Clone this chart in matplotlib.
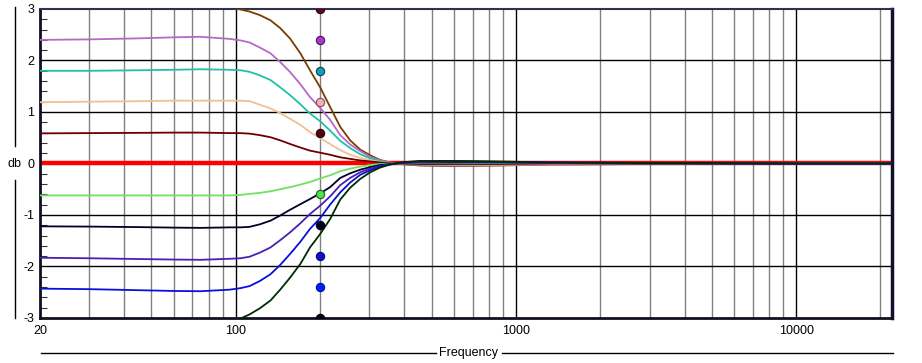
import matplotlib
matplotlib.use("Agg")
import matplotlib.pyplot as plt
from matplotlib.lines import Line2D
from matplotlib.ticker import FixedLocator, NullFormatter
import numpy as np

# frequencies (Hz) at which the curves were read
freqs = [20, 30, 45, 60, 75, 95, 104, 112, 122, 133, 144, 156, 170, 184, 200, 217, 236,
         256, 278, 302, 327, 355, 386, 454, 585, 870, 1330, 3000, 10000, 22000]

# shelf gains (db), one curve each, dots drawn at 200 Hz
gains = [3, 2.4, 1.8, 1.2, 0.6, 0, -0.6, -1.2, -1.8, -2.4, -3]

resp_p30 = [3.02, 3.03, 3.05, 3.06, 3.06, 3.03, 2.99, 2.95, 2.88, 2.78, 2.63, 2.43, 2.14, 1.81, 1.48,
            1.10, 0.71, 0.45, 0.27, 0.16, 0.07, 0.02, -0.01, -0.04, -0.05, -0.04, -0.02, -0.01, 0, 0]
resp_p24 = [2.40, 2.41, 2.43, 2.45, 2.46, 2.42, 2.39, 2.35, 2.25, 2.14, 1.97, 1.78, 1.54, 1.29, 1.08,
            0.85, 0.55, 0.37, 0.24, 0.13, 0.06, 0.02, -0.01, -0.03, -0.04, -0.03, -0.02, -0.01, 0, 0]
resp_p18 = [1.80, 1.80, 1.81, 1.82, 1.83, 1.82, 1.81, 1.78, 1.71, 1.62, 1.48, 1.33, 1.15, 0.97, 0.82,
            0.64, 0.44, 0.30, 0.18, 0.10, 0.05, 0.01, -0.01, -0.02, -0.03, -0.02, -0.01, 0, 0, 0]
resp_p12 = [1.19, 1.20, 1.21, 1.22, 1.22, 1.22, 1.22, 1.21, 1.14, 1.07, 0.98, 0.87, 0.75, 0.61, 0.49,
            0.38, 0.26, 0.17, 0.11, 0.06, 0.03, 0.01, 0, -0.01, -0.02, -0.02, -0.01, 0, 0, 0]
resp_p06 = [0.585, 0.59, 0.595, 0.60, 0.60, 0.59, 0.59, 0.58, 0.55, 0.51, 0.45, 0.38, 0.31, 0.25, 0.21,
            0.17, 0.12, 0.09, 0.06, 0.04, 0.02, 0.01, 0, -0.01, -0.01, -0.01, 0, 0, 0, 0]
resp_0 = [0] * len(freqs)
resp_m06 = [-0.62, -0.62, -0.62, -0.62, -0.62, -0.62, -0.61, -0.59, -0.57, -0.54, -0.50, -0.46, -0.41, -0.36, -0.29,
            -0.23, -0.15, -0.10, -0.06, -0.03, -0.01, 0, 0.01, 0.02, 0.02, 0.01, 0.01, 0, 0, 0]
resp_m12 = [-1.22, -1.225, -1.235, -1.245, -1.25, -1.24, -1.24, -1.23, -1.18, -1.11, -1.01, -0.90, -0.79, -0.69, -0.58,
            -0.46, -0.28, -0.19, -0.12, -0.07, -0.03, -0.01, 0.01, 0.03, 0.03, 0.02, 0.01, 0, 0, 0]
resp_m18 = [-1.83, -1.84, -1.855, -1.865, -1.87, -1.85, -1.84, -1.81, -1.73, -1.63, -1.49, -1.34, -1.16, -0.98, -0.82,
            -0.64, -0.42, -0.28, -0.17, -0.10, -0.05, -0.01, 0.01, 0.03, 0.04, 0.03, 0.01, 0, 0, 0]
resp_m24 = [-2.43, -2.44, -2.46, -2.475, -2.48, -2.45, -2.42, -2.38, -2.28, -2.15, -1.97, -1.76, -1.52, -1.27, -1.06,
            -0.80, -0.56, -0.37, -0.22, -0.13, -0.06, -0.02, 0.01, 0.04, 0.04, 0.03, 0.02, 0.01, 0, 0]
resp_m30 = [-3.02, -3.03, -3.05, -3.06, -3.06, -3.04, -3.01, -2.93, -2.81, -2.66, -2.45, -2.22, -1.95, -1.63, -1.37,
            -1.08, -0.70, -0.47, -0.30, -0.17, -0.08, -0.02, 0.02, 0.05, 0.05, 0.04, 0.02, 0.01, 0, 0]

curves = [resp_p30, resp_p24, resp_p18, resp_p12, resp_p06, resp_0,
          resp_m06, resp_m12, resp_m18, resp_m24, resp_m30]
line_colors = ["#7a3c00", "#b868c8", "#20c0a8", "#f0c090", "#6a0000", "#ff0000",
               "#70e060", "#000028", "#4a20b0", "#0a10d8", "#002a00"]
dot_colors = ["#5a0a1e", "#a040c0", "#10a0b0", "#f0b890", "#500018", None,
              "#50e050", "#000020", "#1010c8", "#0020f0", "#000010"]
dot_edges = ["#300010", "#501070", "#104060", "#8040a0", "#300010", None,
             "#206020", "#000010", "#0a0a80", "#0010a0", "#000000"]

dot_freq = 200
x_ticks = [20, 100, 1000, 10000]
y_ticks = [-3, -2, -1, 0, 1, 2, 3]

plt.rcParams['font.family'] = ['Liberation Sans', 'DejaVu Sans']
fig = plt.figure(figsize=(9.22, 3.63), dpi=100)
ax = fig.add_axes([40 / 922, 1 - 318 / 363, 852 / 922, 309 / 363])

ax.set_xscale("log")
ax.set_xlim(20, 22000)
ax.set_ylim(-3, 3)

# grid: grey minor verticals, black decades and black integer rows
minor_x = [m * d for d in (10, 100, 1000, 10000) for m in range(2, 10)]
minor_x = [f for f in minor_x if 20 < f < 22000]
for f in minor_x:
    ax.axvline(f, color="#808080", lw=1.0, zorder=1)
for f in (100, 1000, 10000):
    ax.axvline(f, color="black", lw=1.0, zorder=1)
for v in y_ticks[1:-1]:
    ax.axhline(v, color="black", lw=1.0, zorder=1)

# zero line first, so the others sit on top of it
order = [5] + [i for i in range(len(curves)) if i != 5]
for i in order:
    lw = 3.2 if gains[i] == 0 else 1.3
    ax.plot(freqs, curves[i], color=line_colors[i], lw=lw, zorder=2 if i == 5 else 3,
            solid_capstyle="butt", solid_joinstyle="round")

for i, g in enumerate(gains):
    if dot_colors[i] is None:
        continue
    ax.plot([dot_freq], [g], "o", ms=6, color=dot_colors[i], mec=dot_edges[i],
            mew=0.8, zorder=4)

ax.xaxis.set_major_locator(FixedLocator(x_ticks))
ax.xaxis.set_minor_locator(FixedLocator([]))
ax.set_xticklabels([str(t) for t in x_ticks])
ax.xaxis.set_minor_formatter(NullFormatter())
ax.yaxis.set_major_locator(FixedLocator(y_ticks))
ax.yaxis.set_minor_locator(FixedLocator(list(np.arange(-2.8, 3.0, 0.2))))
ax.set_yticklabels([str(t) for t in y_ticks])
ax.tick_params(axis="x", length=0, pad=5, labelsize=9)
ax.tick_params(axis="y", which="major", length=0, pad=4, labelsize=9)
ax.tick_params(axis="y", which="minor", direction="in", length=5, width=0.8, color="#333333")

for side in ("left", "bottom"):
    ax.spines[side].set_linewidth(2)
    ax.spines[side].set_color("#101020")
ax.spines["top"].set_linewidth(1.5)
ax.spines["top"].set_color("#303050")
ax.spines["right"].set_linewidth(2.5)
ax.spines["right"].set_color("#101030")

# axis captions with their rules
fig.text(14 / 922, 1 - 164 / 363, "db", ha="center", va="center", fontsize=9)
fig.add_artist(Line2D([15 / 922, 15 / 922], [1 - 7 / 363, 1 - 146 / 363], color="black", lw=1))
fig.add_artist(Line2D([15 / 922, 15 / 922], [1 - 180 / 363, 1 - 318 / 363], color="black", lw=1))
fig.text(468 / 922, 1 - 353 / 363, "Frequency", ha="center", va="center", fontsize=9)
fig.add_artist(Line2D([41 / 922, 436 / 922], [1 - 353 / 363] * 2, color="black", lw=1))
fig.add_artist(Line2D([502 / 922, 893 / 922], [1 - 353 / 363] * 2, color="black", lw=1))

fig.savefig("out.png", dpi=100)
